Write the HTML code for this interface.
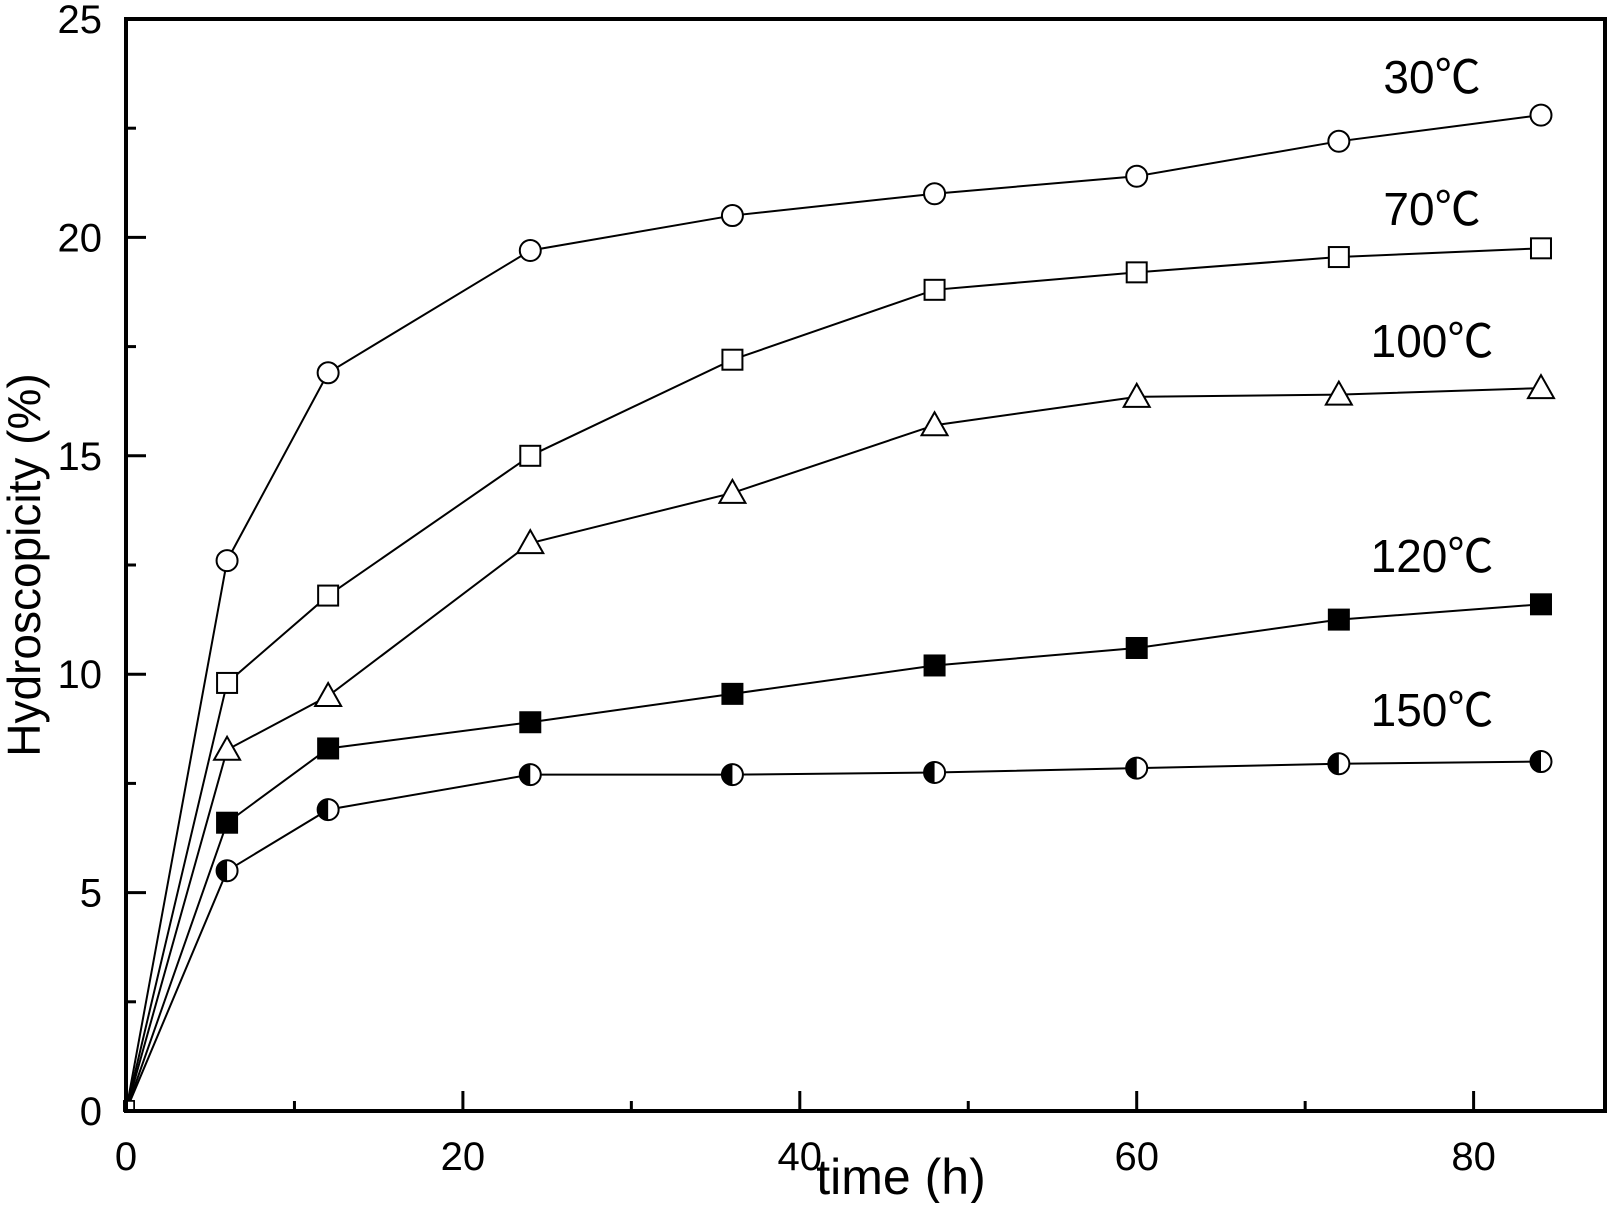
<!DOCTYPE html>
<html><head><meta charset="utf-8"><style>
body{margin:0;background:#fff}
svg text{font-family:"Liberation Sans","Noto Sans CJK SC",sans-serif;fill:#000}
</style></head><body>
<svg id="chart" width="1609" height="1203" viewBox="0 0 1609 1203" xmlns="http://www.w3.org/2000/svg">
<g id="grid"></g><g id="series"></g><g id="labels"></g>
<rect x="126" y="19" width="1479" height="1092" fill="none" stroke="#000" stroke-width="4"/>
<text x="901" y="1194" font-size="50" text-anchor="middle">time (h)</text>
<text transform="translate(40,565) rotate(-90)" font-size="46" text-anchor="middle">Hydroscopicity (%)</text>
</svg>
<script>
const times=[0,6,12,24,36,48,60,72,84];
const s30=[0,12.6,16.9,19.7,20.5,21.0,21.4,22.2,22.8];
const s70=[0,9.8,11.8,15.0,17.2,18.8,19.2,19.55,19.75];
const s100=[0,8.27,9.5,13.0,14.15,15.7,16.35,16.4,16.55];
const s120=[0,6.6,8.3,8.9,9.55,10.2,10.6,11.25,11.6];
const s150=[0,5.5,6.9,7.7,7.7,7.75,7.85,7.95,8.0];
const seriesNames=["30℃","70℃","100℃","120℃","150℃"];
const xTicks=[0,20,40,60,80];
const yTicks=[0,5,10,15,20,25];
const NS="http://www.w3.org/2000/svg";
const X0=126,X1=1605,Y0=1111,Y1=19,XMAX=87.8,YMAX=25;
const xs=v=>X0+v/XMAX*(X1-X0);
const ys=v=>Y0-v/YMAX*(Y0-Y1);
function mk(tag,attrs,parent){const e=document.createElementNS(NS,tag);for(const k in attrs)e.setAttribute(k,attrs[k]);parent.appendChild(e);return e;}
const grid=document.getElementById('grid'),ser=document.getElementById('series'),lab=document.getElementById('labels');
for(let v=0;v<=XMAX;v+=10){const maj=v%20===0;const t=mk('line',{x1:xs(v),x2:xs(v),y1:Y0,y2:Y0-(maj?20:10),stroke:'#000','stroke-width':3},grid);

}
for(let v=0;v<=YMAX;v+=2.5){const maj=v%5===0;const t=mk('line',{x1:X0,x2:X0+(maj?20:10),y1:ys(v),y2:ys(v),stroke:'#000','stroke-width':3},grid);

}
xTicks.forEach(v=>{const t=mk('text',{x:xs(v),y:1170,'font-size':40,'text-anchor':'middle'},lab);t.textContent=v;

});
yTicks.forEach(v=>{const t=mk('text',{x:102,y:ys(v)+14,'font-size':40,'text-anchor':'end'},lab);t.textContent=v;

});
const all=[s30,s70,s100,s120,s150];
const kinds=['circle','square','triangle','fsquare','half'];
const labelPos=[[1432,93],[1432,225],[1432,357],[1432,572],[1432,726]];
all.forEach((s,i)=>{
 const g=mk('g',{},ser);
 
 
 const pl=mk('polyline',{points:s.map((v,j)=>xs(times[j])+','+ys(v)).join(' '),fill:'none',stroke:'#000','stroke-width':2},g);
 
 
 s.forEach((v,j)=>{const x=xs(times[j]),y=ys(v);let m;const k=kinds[i];
  if(j===0){m=mk('rect',{x:x-2,y:y-10,width:10,height:10,fill:'#fff',stroke:'#000','stroke-width':1.5},g);}
  else if(k==='circle')m=mk('circle',{cx:x,cy:y,r:10.5,fill:'#fff',stroke:'#000','stroke-width':2},g);
  else if(k==='square')m=mk('rect',{x:x-10,y:y-10,width:20,height:20,fill:'#fff',stroke:'#000','stroke-width':2},g);
  else if(k==='fsquare')m=mk('rect',{x:x-11,y:y-11,width:22,height:22,fill:'#000'},g);
  else if(k==='triangle')m=mk('polygon',{points:`${x},${y-13} ${x-13},${y+10} ${x+13},${y+10}`,fill:'#fff',stroke:'#000','stroke-width':2},g);
  else {m=mk('g',{},g);mk('circle',{cx:x,cy:y,r:10.5,fill:'#fff',stroke:'#000','stroke-width':2},m);mk('path',{d:`M${x},${y-10.5} A10.5,10.5 0 0 0 ${x},${y+10.5} Z`,fill:'#000'},m);}
  
  
 });
 const t=mk('text',{x:labelPos[i][0],y:labelPos[i][1],'font-size':46,'text-anchor':'middle'},lab);t.textContent=seriesNames[i];
 
 
});
</script>
</body></html>
